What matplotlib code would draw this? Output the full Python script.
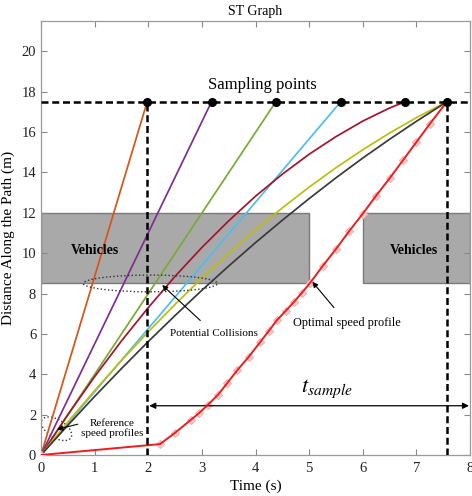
import matplotlib
matplotlib.use("Agg")
import matplotlib.pyplot as plt
import matplotlib.transforms as mtransforms
from matplotlib.patches import Rectangle, Ellipse

plt.rcParams['font.family'] = ['Liberation Serif', 'DejaVu Serif']
plt.rcParams['mathtext.fontset'] = 'stix'

# sampling points on the s = 17.5 m line
sample_t = [1.98, 3.18, 4.38, 5.59, 6.79, 7.57]
sample_s = 17.5

# reference speed profiles (t in s, s in m)
ref_orange_t = [0, 1.98]
ref_orange_s = [0, 17.5]
ref_purple_t = [0, 3.18]
ref_purple_s = [0, 17.5]
ref_green_t = [0, 4.38]
ref_green_s = [0, 17.5]
ref_cyan_t = [0, 5.59]
ref_cyan_s = [0, 17.5]
ref_darkred_t = [0, 0.5, 1.0, 1.5, 2.0, 2.5, 3.0, 3.5, 4.0, 4.5, 5.0, 5.5, 6.0, 6.5, 6.79]
ref_darkred_s = [0, 1.99, 3.88, 5.65, 7.30, 8.85, 10.28, 11.60, 12.82, 13.91, 14.90,
                 15.77, 16.54, 17.19, 17.5]
ref_yellow_t = [0, 0.5, 1.0, 1.5, 2.0, 2.5, 3.0, 3.5, 4.0, 4.5, 5.0, 5.5, 6.0, 6.5,
                7.0, 7.57]
ref_yellow_s = [0, 1.63, 3.19, 4.68, 6.10, 7.46, 8.76, 9.98, 11.15, 12.24, 13.27,
                14.23, 15.12, 15.95, 16.71, 17.5]
ref_black_t = [0, 0.5, 1.0, 1.5, 2.0, 2.5, 3.0, 3.5, 4.0, 4.5, 5.0, 5.5, 6.0, 6.5,
               7.0, 7.57]
ref_black_s = [0, 1.47, 2.90, 4.28, 5.62, 6.91, 8.16, 9.36, 10.52, 11.63, 12.70,
               13.73, 14.71, 15.64, 16.53, 17.5]

# optimal speed profile
opt_t = [0, 2.22, 2.5, 2.79, 2.95, 3.11, 3.3, 3.47, 3.66, 3.87, 4.09, 4.25, 4.4, 4.56,
         4.72, 4.87, 5.02, 5.25, 5.5, 5.75, 6.0, 6.25, 6.5, 6.75, 7.0, 7.25, 7.57]
opt_s = [0, 0.54, 1.1, 1.73, 2.08, 2.48, 2.98, 3.55, 4.2, 4.85, 5.6, 6.15, 6.68, 7.13,
         7.59, 8.05, 8.53, 9.35, 10.2, 11.1, 11.95, 12.85, 13.7, 14.6, 15.5, 16.4, 17.5]

# obstacle vehicles: (t_start, t_end, s_low, s_high)
vehicles = [(0, 5, 8.5, 12), (6, 8, 8.5, 12)]

fig = plt.figure(figsize=(4.72, 4.96), dpi=100)
ax = fig.add_axes([41/472, 41/496, 429/472, 434/496])

for t0, t1, s0, s1 in vehicles:
    ax.add_patch(Rectangle((t0, s0), t1 - t0, s1 - s0, facecolor='#a9a9a9',
                           edgecolor='#7a7a7a', lw=1.0, zorder=1))

lw = 1.25
ax.plot(ref_orange_t, ref_orange_s, color='#D95319', lw=lw, zorder=3)
ax.plot(ref_purple_t, ref_purple_s, color='#7E2F8E', lw=lw, zorder=3)
ax.plot(ref_green_t, ref_green_s, color='#77AC30', lw=lw, zorder=3)
ax.plot(ref_cyan_t, ref_cyan_s, color='#4DBEEE', lw=lw, zorder=3)
ax.plot(ref_darkred_t, ref_darkred_s, color='#A2142F', lw=lw, zorder=3)
ax.plot(ref_yellow_t, ref_yellow_s, color='#BDBD10', lw=lw, zorder=3)
ax.plot(ref_black_t, ref_black_s, color='#3a3a3a', lw=lw, zorder=3)

ax.plot(opt_t, opt_s, ls='none', marker='D', ms=4, mfc='#f8d0d0', mec='#f0b0b0',
        mew=0.8, zorder=3)
ax.plot(opt_t, opt_s, color='#ee1c1c', lw=1.4, zorder=4)

# dashed sampling lines
dash = dict(color='black', lw=1.8, ls=(0, (2.8, 1.5)), zorder=5)
ax.plot([0, 8], [sample_s, sample_s], **dash)
ax.plot([sample_t[0], sample_t[0]], [0, sample_s], **dash)
ax.plot([sample_t[-1], sample_t[-1]], [0, sample_s], **dash)
ax.plot(sample_t, [sample_s] * len(sample_t), ls='none', marker='o', ms=5.5,
        color='black', zorder=6)

# annotations
ax.text(4.13, 17.95, 'Sampling points', fontsize=12, ha='center', va='bottom')
ax.text(1.0, 10.15, 'Vehicles', fontsize=10, fontweight='bold', ha='center', va='center')
ax.text(6.95, 10.15, 'Vehicles', fontsize=10, fontweight='bold', ha='center', va='center')

ax.add_patch(Ellipse((2.04, 8.5), 2.5, 0.83, fill=False, ls=':', lw=1.0,
                     edgecolor='#333333', zorder=6))
ax.annotate('Potential Collisions', xy=(2.26, 8.42), xytext=(3.23, 6.02),
            fontsize=8, ha='center', va='center',
            arrowprops=dict(arrowstyle='-|>', color='black', lw=0.8,
                            shrinkA=6, shrinkB=0, mutation_scale=8))

ax.annotate('Optimal speed profile', xy=(5.06, 8.58), xytext=(5.7, 6.55),
            fontsize=8.8, ha='center', va='center',
            arrowprops=dict(arrowstyle='-|>', color='black', lw=0.8,
                            shrinkA=6, shrinkB=0, mutation_scale=8))

ell_tr = mtransforms.ScaledTranslation(0.29, 1.3, ax.transData)
ax.add_patch(Ellipse((0, 0), 34, 18, angle=-32, fill=False, ls=':', lw=1.0,
                     edgecolor='#333333', transform=ell_tr, zorder=2))
ax.annotate('Reference\nspeed profiles', xy=(0.3, 1.27), xytext=(1.32, 1.32),
            fontsize=8, ha='center', va='center', linespacing=1.1,
            arrowprops=dict(arrowstyle='-|>', color='black', lw=0.8,
                            shrinkA=0, shrinkB=0, mutation_scale=8,
                            relpos=(0.0, 0.75)))

ax.annotate('', xy=(2.02, 2.44), xytext=(7.98, 2.44),
            arrowprops=dict(arrowstyle='<|-|>', color='black', lw=0.9,
                            shrinkA=0, shrinkB=0, mutation_scale=9))
ax.text(5.33, 2.7, r'$t_{sample}$', fontsize=16, ha='center', va='bottom')

ax.set_xlim(0, 8)
ax.set_ylim(0, 21.5)
ax.set_xticks(range(0, 9))
ax.set_yticks(range(0, 21, 2))
ax.tick_params(direction='in', top=True, right=True, length=4, width=0.8,
               color='#888888', labelsize=10.5, labelcolor='#222222')
ax.tick_params(axis='x', pad=5)
for sp in ax.spines.values():
    sp.set_color('#999999')
    sp.set_linewidth(0.9)

ax.set_title('ST Graph', fontsize=10, pad=4)
ax.set_xlabel('Time (s)', fontsize=11, labelpad=3)
ax.set_ylabel('Distance Along the Path (m)', fontsize=11, labelpad=5)

fig.savefig('out.png', dpi=100)
